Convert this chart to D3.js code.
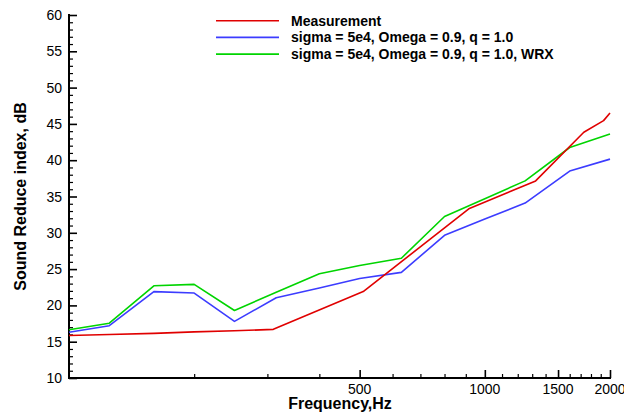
<!DOCTYPE html>
<html>
<head>
<meta charset="utf-8">
<script src="https://cdn.jsdelivr.net/npm/d3@7"></script>
<style>
  html, body { margin: 0; padding: 0; background: #fff; }
  svg { display: block; font-family: "Liberation Sans", Arial, Helvetica, sans-serif; }
</style>
</head>
<body>
<svg id="chart" width="624" height="413"></svg>
<script>
// Third-octave band centres used by the two model predictions
const bandFreqs = [100, 125, 160, 200, 250, 315, 400, 500, 630, 800, 1000, 1250, 1600, 2000];
const modelValues = [16.3, 17.2, 21.9, 21.7, 17.8, 21.05, 22.4, 23.7, 24.55, 29.65, 31.9, 34.1, 38.5, 40.15];
const wrxValues   = [16.65, 17.55, 22.7, 22.9, 19.3, 21.8, 24.35, 25.5, 26.5, 32.25, 34.7, 37.15, 41.75, 43.6];

// Measured sound reduction index
const measFreqs  = [100, 125, 160, 200, 250, 310, 510, 915, 1325, 1730, 1930, 2000];
const measValues = [15.85, 16.0, 16.15, 16.35, 16.5, 16.7, 21.9, 33.3, 37.15, 43.85, 45.45, 46.5];

const seriesNames = [
  "Measurement",
  "sigma = 5e4, Omega = 0.9, q = 1.0",
  "sigma = 5e4, Omega = 0.9, q = 1.0, WRX"
];
const seriesColors = ["#e00000", "#3c3cff", "#00d400"];

const xMajorTicks = [500, 1000, 1500, 2000];
const xMinorTicks = [200, 300, 400, 600, 700, 800, 900, 1100, 1200, 1300, 1400, 1600, 1700, 1800, 1900];
const yMajorTicks = d3.range(10, 61, 5);
const yMinorTicks = d3.range(10, 61, 1).filter(v => v % 5 !== 0);

const svg = d3.select("#chart");
const plotLeft = 69, plotRight = 610, plotTop = 15, plotBottom = 378;

const x = d3.scaleLog().domain([100, 2000]).range([plotLeft, plotRight]);
const y = d3.scaleLinear().domain([10, 60]).range([plotBottom, plotTop]);

// Axes: ticks point into the plot area
const yMajor = d3.axisRight(y).tickValues(yMajorTicks).tickSize(8).tickFormat("");
const yMinor = d3.axisRight(y).tickValues(yMinorTicks).tickSize(4).tickFormat("");
const xMajor = d3.axisTop(x).tickValues(xMajorTicks).tickSize(8).tickFormat("");
const xMinor = d3.axisTop(x).tickValues(xMinorTicks).tickSize(4).tickFormat("");

function styleAxis(g) {
  g.select(".domain").remove();
  g.selectAll(".tick line").attr("stroke", "#000").attr("stroke-width", 1.2);
}

svg.append("g").attr("transform", `translate(${plotLeft},0)`).call(yMinor).call(styleAxis);
svg.append("g").attr("transform", `translate(${plotLeft},0)`).call(yMajor).call(styleAxis)
  .selectAll(".tick line").attr("stroke-width", 1.6);
svg.append("g").attr("transform", `translate(0,${plotBottom})`).call(xMinor).call(styleAxis);
svg.append("g").attr("transform", `translate(0,${plotBottom})`).call(xMajor).call(styleAxis)
  .selectAll(".tick line").attr("stroke-width", 1.6);

// Axis lines
svg.append("line").attr("x1", plotLeft).attr("x2", plotLeft).attr("y1", y(60) - 1).attr("y2", plotBottom + 1)
  .attr("stroke", "#000").attr("stroke-width", 2);
svg.append("line").attr("x1", plotLeft - 1).attr("x2", x(2000) + 1).attr("y1", plotBottom).attr("y2", plotBottom)
  .attr("stroke", "#000").attr("stroke-width", 2);

// Tick labels
svg.append("g").selectAll("text").data(yMajorTicks).join("text")
  .attr("x", plotLeft - 7).attr("y", d => y(d)).attr("dy", "0.36em")
  .attr("text-anchor", "end").attr("font-size", 14).attr("fill", "#000")
  .text(d => d);
svg.append("g").selectAll("text").data(xMajorTicks).join("text")
  .attr("x", d => x(d)).attr("y", plotBottom + 15.5)
  .attr("text-anchor", "middle").attr("font-size", 14).attr("fill", "#000")
  .text(d => d);

// Axis titles
svg.append("text").attr("x", 340).attr("y", 409)
  .attr("text-anchor", "middle").attr("font-size", 16).attr("font-weight", "bold")
  .text("Frequency,Hz");
svg.append("text").attr("transform", `translate(26,${(plotTop + plotBottom) / 2}) rotate(-90)`)
  .attr("text-anchor", "middle").attr("font-size", 16).attr("font-weight", "bold")
  .text("Sound Reduce index, dB");

// Curves
const line = d3.line().x(d => x(d[0])).y(d => y(d[1]));
const series = [
  d3.zip(measFreqs, measValues),
  d3.zip(bandFreqs, modelValues),
  d3.zip(bandFreqs, wrxValues)
];
const plot = svg.append("g");
// draw model curves first, measurement on top
[1, 2, 0].forEach(i => {
  plot.append("path").datum(series[i])
    .attr("d", line).attr("fill", "none")
    .attr("stroke", seriesColors[i]).attr("stroke-width", 1.6)
    .attr("stroke-linejoin", "round");
});

// Legend
const legend = svg.append("g");
seriesNames.forEach((name, i) => {
  const ly = 20.7 + i * 16.7;
  legend.append("line").attr("x1", 216).attr("x2", 279).attr("y1", ly).attr("y2", ly)
    .attr("stroke", seriesColors[i]).attr("stroke-width", 1.6);
  legend.append("text").attr("x", 291).attr("y", ly).attr("dy", "0.36em")
    .attr("font-size", 14).attr("font-weight", "bold").attr("fill", "#000")
    .text(name);
});
</script>
</body>
</html>
